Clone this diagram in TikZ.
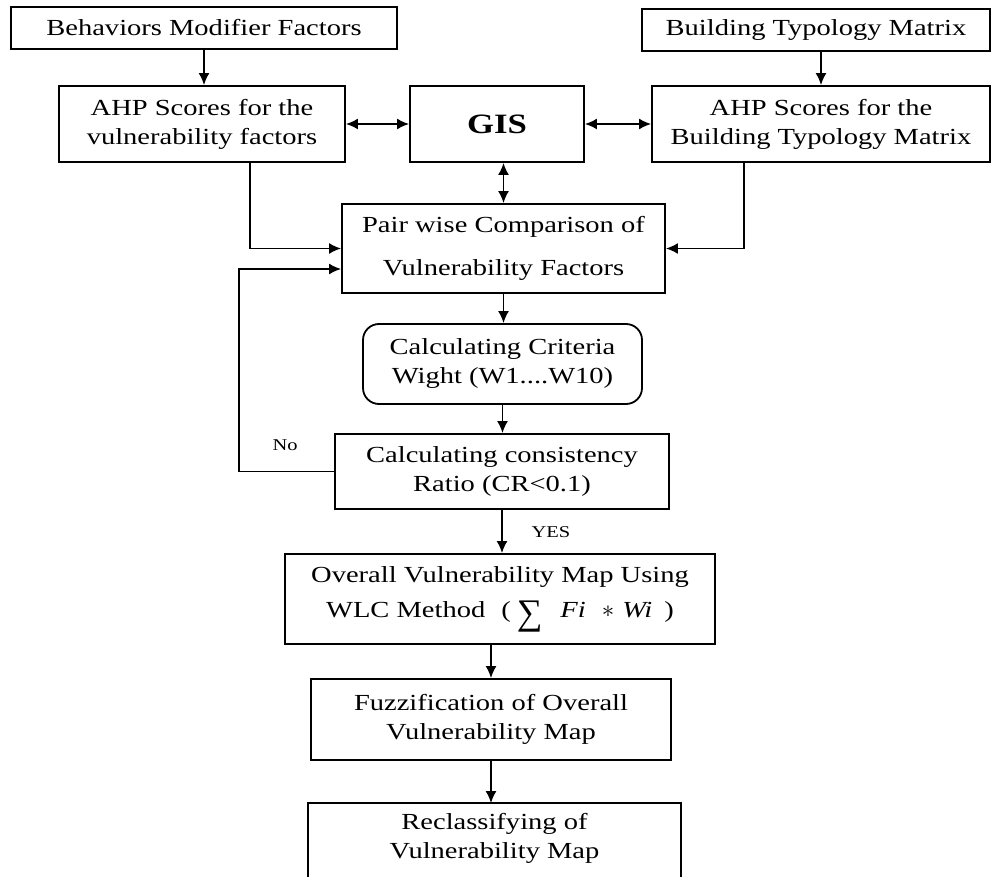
\documentclass[tikz,border=0pt]{standalone}
\usepackage{graphicx}
\usepackage{fontspec}
\setmainfont{Liberation Serif}[FakeStretch=1.24]
\newfontfamily\sumfont{Liberation Serif}
\usetikzlibrary{arrows.meta}
\begin{document}
\begin{tikzpicture}[x=1pt,y=-1pt,
  box/.style={draw, line width=1.8pt, inner sep=0pt, align=center, font=\fontsize{23}{29}\selectfont},
  arr/.style={line width=1.8pt, -{Latex[length=12pt,width=11pt]}},
  darr/.style={line width=1.8pt, {Latex[length=12pt,width=11pt]}-{Latex[length=12pt,width=11pt]}},
  lbl/.style={font=\fontsize{16.5}{19}\selectfont, inner sep=0pt}]
\useasboundingbox (0,0) rectangle (993,877);
\node[box, minimum width=386pt, minimum height=42pt] (beh) at (204,28) {Behaviors Modifier Factors};
\node[box, minimum width=348pt, minimum height=42pt] (btm) at (816,30) {Building Typology Matrix};
\node[box, minimum width=286pt, minimum height=76pt] (ahpL) at (202,124) {AHP Scores for the\\vulnerability factors};
\node[box, minimum width=174pt, minimum height=76pt, font=\fontsize{28}{34}\selectfont\bfseries] (gis) at (497,124) {GIS};
\node[box, minimum width=338pt, minimum height=76pt] (ahpR) at (821,124) {AHP Scores for the\\Building Typology Matrix};
\node[box, minimum width=323pt, minimum height=89pt, font=\fontsize{23}{43}\selectfont] (pair) at (503.5,248.5) {Pair wise Comparison of\\Vulnerability Factors};
\node[box, minimum width=279pt, minimum height=80pt, rounded corners=16pt] (crit) at (502.5,364) {Calculating Criteria\\Wight (W1....W10)};
\node[box, minimum width=334pt, minimum height=75pt] (cons) at (502,471.5) {Calculating consistency\\Ratio (CR<0.1)};
\node[box, minimum width=430pt, minimum height=90pt, font=\fontsize{23}{35}\selectfont] (over) at (500,599) {Overall Vulnerability Map Using\\WLC Method\hspace{16pt}(\hspace{6pt}\raisebox{-7pt}{\sumfont\fontsize{36}{36}\selectfont ∑}\hspace{18pt}\textit{Fi}\hspace{16pt}$*$\hspace{8pt}\textit{Wi}\hspace{12pt})};
\node[box, minimum width=360pt, minimum height=81pt] (fuzz) at (491,719.5) {Fuzzification of Overall\\Vulnerability Map};
\node[box, draw=none, minimum width=371pt, minimum height=69pt] (recl) at (494.5,838.5) {Reclassifying of\\Vulnerability Map};
\draw[line width=1.8pt] ([yshift=-40pt]recl.south west) |- (recl.north east) -- ([yshift=-40pt]recl.south east);
\node[lbl] (no) at (285,445) {No};
\node[lbl] (yes) at (551,532) {YES};
\coordinate (lx) at (250,0);
\coordinate (rx) at (744,0);
\coordinate (loopx) at (239,0);
\coordinate (inLoop) at ([yshift=-20.5pt]pair.west);
\draw[arr] (beh.south) -- (beh.south |- ahpL.north);
\draw[arr] (ahpR.north |- btm.south) -- (ahpR.north);
\draw[darr] (ahpL.east) -- (gis.west);
\draw[darr] (gis.east) -- (ahpR.west);
\draw[darr] (gis.south -| pair.north) -- (pair.north);
\draw[arr] (ahpL.south -| lx) |- (pair.west);
\draw[arr] (ahpR.south -| rx) |- (pair.east);
\draw[arr] (cons.west) -| (loopx |- inLoop) -- (inLoop);
\draw[arr] (pair.south) -- (crit.north -| pair.south);
\draw[arr] (crit.south) -- (cons.north -| crit.south);
\draw[arr] (cons.south) -- (cons.south |- over.north);
\draw[arr] (over.south -| fuzz.north) -- (fuzz.north);
\draw[arr] (fuzz.south) -- (recl.north -| fuzz.south);
\end{tikzpicture}
\end{document}
